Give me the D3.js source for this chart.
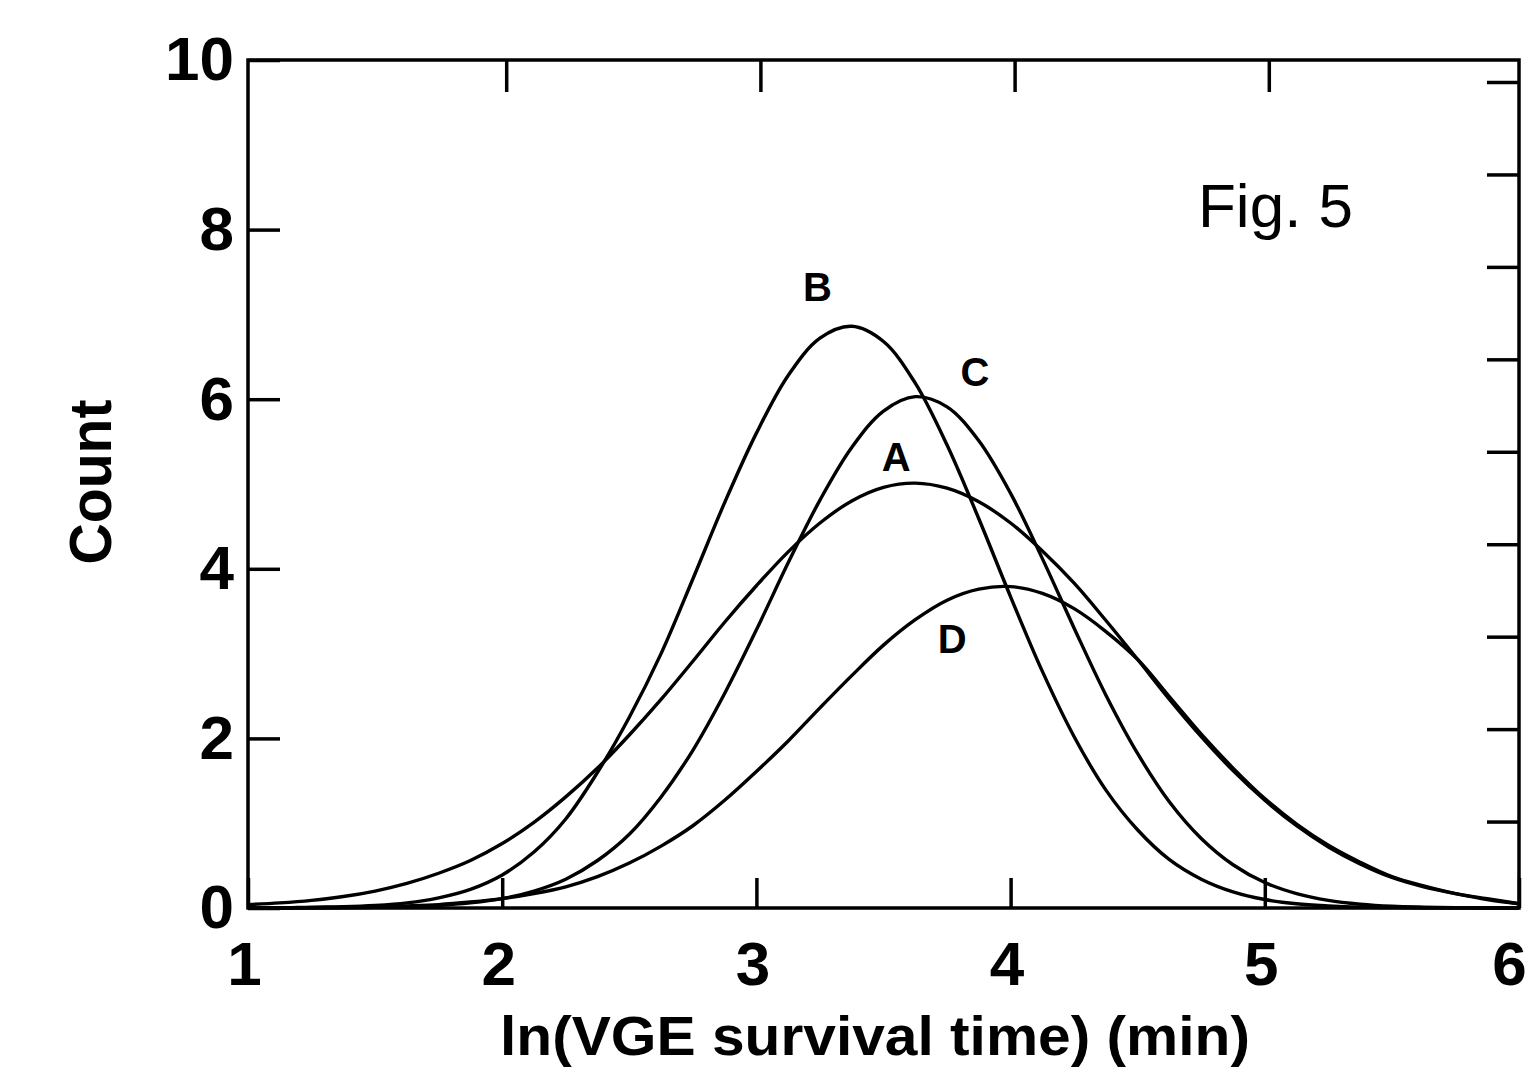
<!DOCTYPE html>
<html>
<head>
<meta charset="utf-8">
<script src="https://cdn.jsdelivr.net/npm/d3@7"></script>
<style>
  html, body { margin: 0; padding: 0; background: #fff; }
  svg { display: block; }
  text { font-family: "Liberation Sans", Arial, Helvetica, sans-serif; fill: #000; }
</style>
</head>
<body>
<svg id="chart" width="1530" height="1081"></svg>
<script>
// ---- Data ----
// x sample positions (ln survival time), shared by all curves
const xValues = [
  1.000, 1.125, 1.250, 1.375, 1.500, 1.625, 1.750, 1.875, 2.000, 2.125,
  2.250, 2.375, 2.500, 2.625, 2.750, 2.875, 3.000, 3.125, 3.250, 3.375,
  3.500, 3.625, 3.750, 3.875, 4.000, 4.125, 4.250, 4.375, 4.500, 4.625,
  4.750, 4.875, 5.000, 5.125, 5.250, 5.375, 5.500, 5.625, 5.750, 5.875, 6.000
];
const countA = [
  0.04, 0.06, 0.09, 0.135, 0.20, 0.29, 0.41, 0.56, 0.76, 1.01,
  1.31, 1.65, 2.04, 2.46, 2.91, 3.37, 3.80, 4.20, 4.54, 4.80,
  4.96, 5.01, 4.95, 4.79, 4.54, 4.21, 3.83, 3.39, 2.93, 2.46,
  2.02, 1.62, 1.27, 0.97, 0.72, 0.52, 0.36, 0.25, 0.17, 0.10, 0.05
];
const countB = [
  0.00, 0.00, 0.01, 0.015, 0.03, 0.06, 0.12, 0.22, 0.39, 0.66,
  1.05, 1.60, 2.25, 3.00, 3.88, 4.78, 5.60, 6.28, 6.72, 6.86,
  6.68, 6.19, 5.46, 4.59, 3.67, 2.79, 2.02, 1.39, 0.92, 0.57,
  0.34, 0.19, 0.10, 0.05, 0.025, 0.01, 0.005, 0.00, 0.00, 0.00, 0.00
];
const countC = [
  0.00, 0.00, 0.00, 0.003, 0.007, 0.015, 0.03, 0.06, 0.11, 0.20,
  0.34, 0.56, 0.87, 1.31, 1.86, 2.53, 3.28, 4.07, 4.81, 5.43,
  5.86, 6.03, 5.91, 5.51, 4.89, 4.12, 3.30, 2.51, 1.82, 1.25,
  0.82, 0.51, 0.30, 0.17, 0.09, 0.045, 0.02, 0.01, 0.005, 0.00, 0.00
];
const countD = [
  0.00, 0.00, 0.005, 0.01, 0.015, 0.025, 0.04, 0.07, 0.11, 0.17,
  0.25, 0.37, 0.53, 0.73, 0.97, 1.27, 1.61, 1.97, 2.36, 2.74,
  3.10, 3.40, 3.63, 3.76, 3.79, 3.71, 3.53, 3.26, 2.93, 2.49,
  2.05, 1.65, 1.29, 0.99, 0.74, 0.54, 0.37, 0.26, 0.17, 0.11, 0.05
];
const curveLabels = ["B", "C", "A", "D"];
const curveLabelX = [3.24, 3.86, 3.55, 3.77];
const curveLabelY = [7.16, 6.16, 5.15, 3.01];

const xTicks = [1, 2, 3, 4, 5, 6];
const xTickLabels = ["1", "2", "3", "4", "5", "6"];
const yTicks = [0, 2, 4, 6, 8, 10];
const yTickLabels = ["0", "2", "4", "6", "8", "10"];
const topTicks = [2, 3, 4, 5];
const rightTicks = [1, 2, 3, 4, 5, 6, 7, 8, 9];

const xTitle = "ln(VGE survival time) (min)";
const yTitle = "Count";
const figLabel = "Fig. 5";

// ---- Layout ----
const svg = d3.select("#chart");
const L = 248, R = 1519, T = 60, B = 908;

const x = d3.scaleLinear().domain([1, 6]).range([L, R]);
const y = d3.scaleLinear().domain([0, 10]).range([B, T]);
const yRight = d3.scaleLinear().domain([0, 9]).range([914, 82]);

const tickFont = 62;

// Frame
svg.append("rect")
  .attr("x", L).attr("y", T).attr("width", R - L).attr("height", B - T)
  .attr("fill", "none").attr("stroke", "#000").attr("stroke-width", 3.5);

// Bottom axis
const gx = svg.append("g").attr("transform", `translate(0,${B})`)
  .call(d3.axisBottom(x).tickValues(xTicks).tickSize(-30).tickPadding(33)
        .tickFormat((d, i) => xTickLabels[i]));
gx.select(".domain").remove();
gx.selectAll(".tick line").attr("stroke", "#000").attr("stroke-width", 3.5);
gx.selectAll(".tick text").attr("font-size", tickFont).attr("font-weight", "bold")
  .attr("dx", d => d === 6 ? -10 : -4)
  .attr("font-family", '"Liberation Sans", Arial, sans-serif');

// Left axis
const gy = svg.append("g").attr("transform", `translate(${L},0)`)
  .call(d3.axisLeft(y).tickValues(yTicks).tickSize(-32).tickPadding(14)
        .tickFormat((d, i) => yTickLabels[i]));
gy.select(".domain").remove();
gy.selectAll(".tick line").attr("stroke", "#000").attr("stroke-width", 3.5);
gy.selectAll(".tick text").attr("font-size", tickFont).attr("font-weight", "bold")
  .attr("font-family", '"Liberation Sans", Arial, sans-serif');

// Top axis (ticks only)
const gt = svg.append("g").attr("transform", `translate(0,${T})`)
  .call(d3.axisTop(x).tickValues(topTicks).tickSize(-32).tickFormat(""));
gt.select(".domain").remove();
gt.selectAll(".tick line").attr("stroke", "#000").attr("stroke-width", 3.5)
  .attr("transform", "translate(4,0)");

// Right axis (ticks only)
const gr = svg.append("g").attr("transform", `translate(${R},0)`)
  .call(d3.axisRight(yRight).tickValues(rightTicks).tickSize(-32).tickFormat(""));
gr.select(".domain").remove();
gr.selectAll(".tick line").attr("stroke", "#000").attr("stroke-width", 3.5);

// Curves
const line = d3.line()
  .x((d, i) => x(xValues[i])).y(d => y(d))
  .curve(d3.curveCatmullRom.alpha(0.5));

[countA, countB, countC, countD].forEach(c => {
  svg.append("path").datum(c)
    .attr("d", line)
    .attr("fill", "none")
    .attr("stroke", "#000")
    .attr("stroke-width", 3.4)
    .attr("stroke-linejoin", "round");
});

// Curve labels
curveLabels.forEach((t, i) => {
  svg.append("text")
    .attr("x", x(curveLabelX[i])).attr("y", y(curveLabelY[i]))
    .attr("text-anchor", "middle")
    .attr("font-size", 40).attr("font-weight", "bold")
    .text(t);
});

// Fig label
svg.append("text")
  .attr("x", 1198).attr("y", 227)
  .attr("font-size", 62)
  .text(figLabel);

// Axis titles
svg.append("text")
  .attr("x", 875).attr("y", 1055)
  .attr("text-anchor", "middle")
  .attr("font-size", 56).attr("font-weight", "bold")
  .attr("textLength", 750).attr("lengthAdjust", "spacingAndGlyphs")
  .text(xTitle);

svg.append("text")
  .attr("transform", "translate(111,482) rotate(-90)")
  .attr("text-anchor", "middle")
  .attr("font-size", 60).attr("font-weight", "bold")
  .attr("textLength", 165).attr("lengthAdjust", "spacingAndGlyphs")
  .text(yTitle);
</script>
</body>
</html>
